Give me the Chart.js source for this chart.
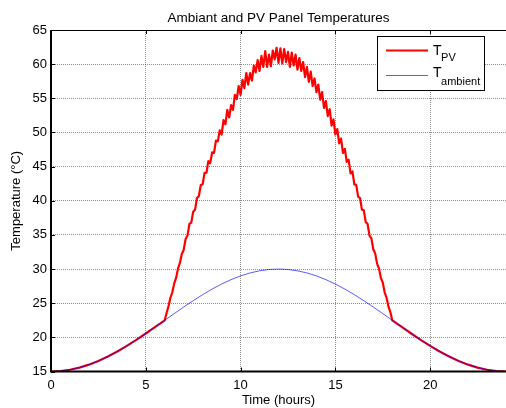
<!DOCTYPE html>
<html>
<head>
<meta charset="utf-8">
<script src="https://cdn.jsdelivr.net/npm/chart.js@4"></script>
<style>
  html, body { margin: 0; padding: 0; background: #fff; }
  #wrap { width: 506px; height: 408px; }
</style>
</head>
<body>
<div id="wrap"><canvas id="temp-chart"></canvas></div>
<script>
// hours of the day, every half hour
var hours = [0,0.5,1,1.5,2,2.5,3,3.5,4,4.5,5,5.5,6,6.5,7,7.5,8,8.5,9,9.5,10,10.5,11,11.5,
             12,12.5,13,13.5,14,14.5,15,15.5,16,16.5,17,17.5,18,18.5,19,19.5,20,20.5,21,21.5,22,22.5,23,23.5,24];
// ambient temperature (blue)
var tAmbient = [15.00,15.06,15.26,15.57,16.00,16.55,17.20,17.93,18.75,19.63,20.56,21.52,22.50,23.48,24.44,25.37,
                26.25,27.07,27.80,28.45,29.00,29.43,29.74,29.94,30.00,29.94,29.74,29.43,29.00,28.45,27.80,27.07,
                26.25,25.37,24.44,23.48,22.50,21.52,20.56,19.63,18.75,17.93,17.20,16.55,16.00,15.57,15.26,15.06,15.00];
// daytime samples of the panel (red), 6h..18h
var dayHours = [6.0,6.1,6.2,6.3,6.4,6.5,6.6,6.7,6.8,6.9,7.0,7.1,7.2,7.3,7.4,7.5,7.6,7.7,7.8,7.9,
                8.0,8.1,8.2,8.3,8.4,8.5,8.6,8.7,8.8,8.9,9.0,9.1,9.2,9.3,9.4,9.5,9.6,9.7,9.8,9.9,
                10.0,10.1,10.2,10.3,10.4,10.5,10.6,10.7,10.8,10.9,11.0,11.1,11.2,11.3,11.4,11.5,11.6,11.7,11.8,11.9,
                12.0,12.1,12.2,12.3,12.4,12.5,12.6,12.7,12.8,12.9,13.0,13.1,13.2,13.3,13.4,13.5,13.6,13.7,13.8,13.9,
                14.0,14.1,14.2,14.3,14.4,14.5,14.6,14.7,14.8,14.9,15.0,15.1,15.2,15.3,15.4,15.5,15.6,15.7,15.8,15.9,
                16.0,16.1,16.2,16.3,16.4,16.5,16.6,16.7,16.8,16.9,17.0,17.1,17.2,17.3,17.4,17.5,17.6,17.7,17.8,17.9,18.0];
var dayPV = [22.5,23.6,24.6,25.8,26.6,27.9,28.7,30.1,30.9,32.2,32.8,34.4,34.9,36.6,36.8,38.4,38.7,40.4,40.7,42.3,
             42.4,44.1,44.1,45.8,45.5,47.1,47.0,48.8,48.7,50.3,49.7,51.8,51.2,53.3,52.2,54.0,53.3,55.5,54.9,56.8,
             55.5,57.7,56.5,58.7,57.0,58.7,57.6,59.8,58.8,60.6,59.0,61.2,59.6,61.9,59.6,61.4,59.7,62.0,60.7,62.4,
             60.2,62.3,60.1,62.2,60.3,61.8,59.6,61.7,59.8,61.4,59.2,60.9,59.0,60.3,58.1,59.6,57.4,58.9,56.8,57.9,
             55.9,57.0,54.8,55.9,53.6,54.6,52.4,53.4,51.0,51.9,49.7,50.5,48.4,49.1,47.0,47.6,45.7,46.0,44.0,44.3,
             42.4,42.3,40.6,40.4,38.7,38.6,36.9,36.6,34.9,34.5,32.9,32.3,30.8,30.1,28.7,28.0,26.6,25.8,24.5,23.7,22.5];
var xTicks = [0,5,10,15,20];
var yTicks = [15,20,25,30,35,40,45,50,55,60,65];

var FONT = '"Liberation Sans", Arial, sans-serif';

// panel = ambient at night, measured samples during the day
var ambPts = hours.map(function (h, i) { return {x: h, y: tAmbient[i]}; });
var pvPts = ambPts.filter(function (p) { return p.x < 6; })
    .concat(dayHours.map(function (h, i) { return {x: h, y: dayPV[i]}; }))
    .concat(ambPts.filter(function (p) { return p.x > 18; }));

var matlabFrame = {
    id: 'matlabFrame',
    afterDraw: function (chart) {
        var ctx = chart.ctx, a = chart.chartArea;
        var sx = chart.scales.x, sy = chart.scales.y;
        ctx.save();
        // inward tick marks
        ctx.strokeStyle = '#000';
        ctx.lineWidth = 1;
        yTicks.forEach(function (v) {
            var py = Math.round(sy.getPixelForValue(v)) + 0.5;
            ctx.beginPath(); ctx.moveTo(a.left, py); ctx.lineTo(a.left + 4, py); ctx.stroke();
        });
        xTicks.forEach(function (v) {
            var px = Math.round(sx.getPixelForValue(v)) + 0.5;
            ctx.beginPath(); ctx.moveTo(px, a.bottom); ctx.lineTo(px, a.bottom - 4); ctx.stroke();
            ctx.beginPath(); ctx.moveTo(px, a.top); ctx.lineTo(px, a.top + 4); ctx.stroke();
        });
        // axes box
        ctx.lineWidth = 1;
        ctx.beginPath(); ctx.moveTo(a.left, a.top + 0.5); ctx.lineTo(a.right, a.top + 0.5); ctx.stroke();
        ctx.lineWidth = 2;
        ctx.beginPath(); ctx.moveTo(a.left, a.top); ctx.lineTo(a.left, a.bottom); ctx.lineTo(a.right, a.bottom); ctx.stroke();

        // title
        ctx.fillStyle = '#000';
        ctx.font = '13.5px ' + FONT;
        ctx.textAlign = 'center';
        ctx.textBaseline = 'alphabetic';
        ctx.fillText('Ambiant and PV Panel Temperatures', (a.left + a.right) / 2, 21.5);

        // legend
        ctx.fillStyle = '#fff';
        ctx.fillRect(377.5, 36.5, 107, 54);
        ctx.strokeStyle = '#000';
        ctx.lineWidth = 1;
        ctx.strokeRect(377.5, 36.5, 107, 54);
        ctx.strokeStyle = '#ff0000';
        ctx.lineWidth = 2;
        ctx.beginPath(); ctx.moveTo(386, 50.5); ctx.lineTo(428, 50.5); ctx.stroke();
        ctx.strokeStyle = 'rgba(0,0,255,0.65)';
        ctx.lineWidth = 1;
        ctx.beginPath(); ctx.moveTo(386, 75.5); ctx.lineTo(428, 75.5); ctx.stroke();
        ctx.fillStyle = '#000';
        ctx.textAlign = 'left';
        ctx.font = '14px ' + FONT;
        var tw = ctx.measureText('T').width;
        ctx.fillText('T', 433, 55);
        ctx.fillText('T', 433, 77);
        ctx.font = '11px ' + FONT;
        ctx.fillText('PV', 433 + tw - 0.5, 60.5);
        ctx.fillText('ambient', 433 + tw - 0.5, 84.5);
        ctx.restore();
    }
};

Chart.defaults.color = '#000';
Chart.defaults.font.family = FONT;
Chart.defaults.font.size = 13;

var ctx = document.getElementById('temp-chart');
var tempChart = new Chart(ctx, {
    type: 'line',
    data: {
        datasets: [{
            label: 'T_PV',
            data: pvPts,
            borderColor: '#ff0000',
            borderWidth: 2.2,
            borderJoinStyle: 'round',
            pointRadius: 0,
            order: 2
        }, {
            label: 'T_ambient',
            data: ambPts,
            borderColor: 'rgba(0,0,255,0.65)',
            borderWidth: 1,
            pointRadius: 0,
            order: 1
        }]
    },
    options: {
        responsive: true,
        maintainAspectRatio: false,
        animation: false,
        layout: { padding: { top: 30, left: 0, right: 0, bottom: 0 } },
        plugins: { legend: { display: false }, tooltip: { enabled: false } },
        scales: {
            x: {
                type: 'linear',
                min: 0, max: 24,
                afterBuildTicks: function (scale) {
                    scale.ticks = xTicks.map(function (v) { return {value: v}; });
                },
                afterFit: function (scale) { scale.height = 36.5; },
                ticks: { padding: 6, maxRotation: 0 },
                grid: { color: 'rgba(0,0,0,0.45)', drawTicks: false },
                border: { display: false, dash: [1, 1] },
                title: { display: true, text: 'Time (hours)', padding: { top: 0, bottom: 0 } }
            },
            y: {
                min: 15, max: 65,
                afterBuildTicks: function (scale) {
                    scale.ticks = yTicks.map(function (v) { return {value: v}; });
                },
                afterFit: function (scale) { scale.width = 51; },
                ticks: { padding: 4 },
                grid: { color: 'rgba(0,0,0,0.45)', drawTicks: false },
                border: { display: false, dash: [1, 1] },
                title: { display: true, text: 'Temperature (°C)', padding: { top: 9, bottom: 0 } }
            }
        }
    },
    plugins: [matlabFrame]
});
</script>
</body>
</html>
